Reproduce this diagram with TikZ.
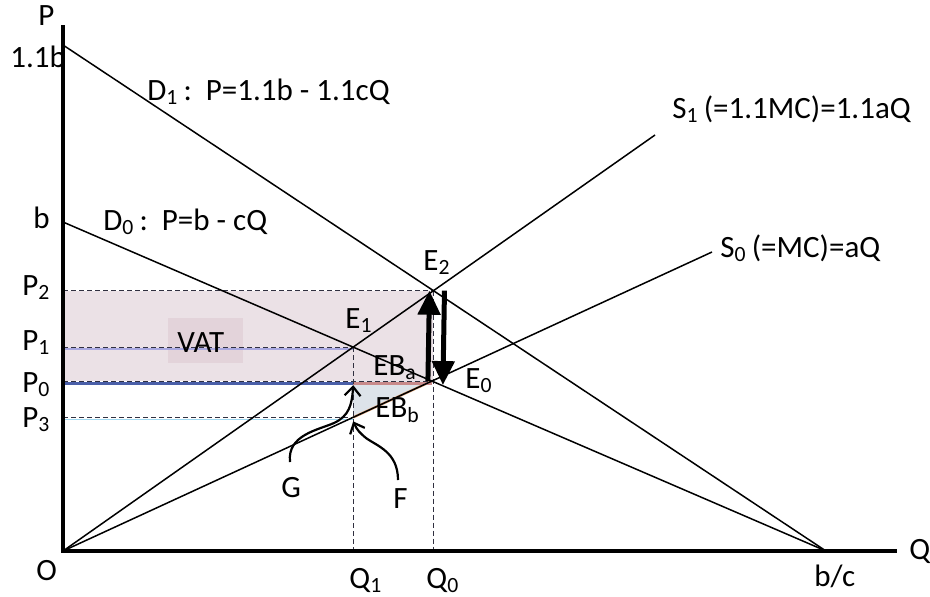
\documentclass[tikz,border=0pt]{standalone}
\usepackage{fontspec}
\setmainfont{Carlito}
\usetikzlibrary{arrows.meta}
\definecolor{vatpink}{HTML}{EBE1E6}
\definecolor{vatbox}{HTML}{E3D3DA}
\definecolor{ebbfill}{HTML}{DDE3E9}
\definecolor{ebaline}{HTML}{C88A8A}
\definecolor{orangeedge}{HTML}{E0A070}
\definecolor{pzeroblue}{HTML}{4A5FA8}
\definecolor{ponelav}{HTML}{A8A8E0}
\definecolor{pthreecyan}{HTML}{A0D8F0}
\definecolor{dashdark}{HTML}{303040}
\begin{document}
\begin{tikzpicture}[x=0.5pt,y=-0.5pt,font=\fontsize{15.5}{18}\selectfont,
  curve/.style={line width=0.75pt},
  dsh/.style={line width=0.5pt,dash pattern=on 2.5pt off 1.5pt,draw=dashdark},
  lbl/.style={anchor=base west,inner sep=0pt},
  axisline/.style={line width=2pt},
  bigarrow/.style={line width=2.5pt,-{Triangle[width=11pt,length=12pt]}},
  hookarrow/.style={line width=1.1pt,-{Straight Barb[length=4.5pt,width=8pt]}}]
\useasboundingbox (0,0) rectangle (930,596);

% base coordinates
\coordinate (O) at (63,551);
\coordinate (Ptop) at (63,25);
\coordinate (Qend) at (897,551);
\coordinate (D1a) at (63,45);
\coordinate (D0a) at (63,222);
\coordinate (bc) at (826,551);
\coordinate (S1e) at (655,135);
\coordinate (S0e) at (712,252);
\coordinate (E2) at (intersection of D1a--bc and O--S1e);
\coordinate (E1) at (intersection of D0a--bc and O--S1e);
\coordinate (E0) at (intersection of D0a--bc and O--S0e);
\coordinate (Q1) at (E1 |- O);
\coordinate (Q0) at (E2 |- O);
\coordinate (F) at (intersection of O--S0e and E1--Q1);
\coordinate (G) at (E1 |- E0);
\coordinate (P2) at (O |- E2);
\coordinate (P1) at (O |- E1);
\coordinate (P0) at (O |- E0);
\coordinate (P3) at (O |- F);

% fills
\fill[vatpink] (P2) rectangle (E2 |- E0);
\fill[vatbox] (168,318) rectangle (243,363);
\fill[ebbfill] (G) -- (F) -- (E0) -- cycle;
\draw[orangeedge,line width=1.2pt] (F) -- (E0);
\draw[ebaline,line width=1.5pt] ([yshift=-1pt]G) -- ([yshift=-1pt]E0);

% coloured guide lines
\draw[pzeroblue,line width=1.2pt] ([yshift=-1.2pt]P0) -- ([yshift=-1.2pt]G);
\draw[ponelav,line width=0.8pt] ([yshift=-1pt]P1) -- ([yshift=-1pt]E1);
\draw[pthreecyan,line width=0.8pt] ([yshift=-1pt]P3) -- ([yshift=-1pt]F);

% dashed guides
\draw[dsh] (P2) -- (E2);
\draw[dsh] (P1) -- (E1);
\draw[dsh] (P0) -- (E0);
\draw[dsh] (P3) -- (F);
\draw[dsh] (E1) -- (Q1);
\draw[dsh] (E2) -- (Q0);

% curves
\draw[curve] (D1a) -- (bc);
\draw[curve] (D0a) -- (bc);
\draw[curve] (O) -- (S1e);
\draw[curve] (O) -- (S0e);

% axes
\draw[axisline] (Ptop) -- (O) -- (Qend);

% big arrows
\draw[bigarrow] ([xshift=-2pt]E0) -- ([xshift=-2pt]E2);
\draw[bigarrow] ([xshift=5.5pt]E2) -- ([xshift=5.5pt,yshift=-2pt]E0);

% hook arrows
\coordinate (Gstart) at (290,462);
\coordinate (Fstart) at (398,480);
\draw[hookarrow] (Gstart) .. controls (287,435) and (318,430) .. (334,423)
  .. controls (349,416) and (352,405) .. ([yshift=-2pt]G);
\draw[hookarrow] (Fstart) .. controls (398,452) and (377,446) .. (366,438)
  .. controls (360,433) and (357,430) .. ([yshift=-2pt]F);

% labels
\node[lbl] (lP) at (38,25) {P};
\node[lbl] (l11b) at (10,67) {1.1b};
\node[lbl] (lD1) at (147,100) {D\textsubscript{1}\,:\ \ P=1.1b - 1.1cQ};
\node[lbl] (lb) at (33,228) {b};
\node[lbl] (lD0) at (103,230) {D\textsubscript{0}\,:\ \ P=b - cQ};
\node[lbl] (lS1) at (672,118) {S\textsubscript{1}\,(=1.1MC)=1.1aQ};
\node[lbl] (lS0) at (720,257) {S\textsubscript{0}\,(=MC)=aQ};
\node[lbl] (lE2) at (423,270) {E\textsubscript{2}};
\node[lbl] (lE1) at (345,328) {E\textsubscript{1}};
\node[lbl] (lEBa) at (373,375) {EB\textsubscript{a}};
\node[lbl] (lE0) at (465,388) {E\textsubscript{0}};
\node[lbl] (lEBb) at (375,417) {EB\textsubscript{b}};
\node[lbl] (lVAT) at (177,352) {VAT};
\node[lbl] (lG) at (281,497) {G};
\node[lbl] (lF) at (393,508) {F};
\node[lbl] (lP2) at (22,295) {P\textsubscript{2}};
\node[lbl] (lP1) at (22,350) {P\textsubscript{1}};
\node[lbl] (lP0) at (22,392) {P\textsubscript{0}};
\node[lbl] (lP3) at (22,427) {P\textsubscript{3}};
\node[lbl] (lO) at (36,580) {O};
\node[lbl] (lQ1) at (349,588) {Q\textsubscript{1}};
\node[lbl] (lQ0) at (426,588) {Q\textsubscript{0}};
\node[lbl] (lbc) at (814,586) {b/c};
\node[lbl] (lQ) at (909,559) {Q};
\end{tikzpicture}
\end{document}
